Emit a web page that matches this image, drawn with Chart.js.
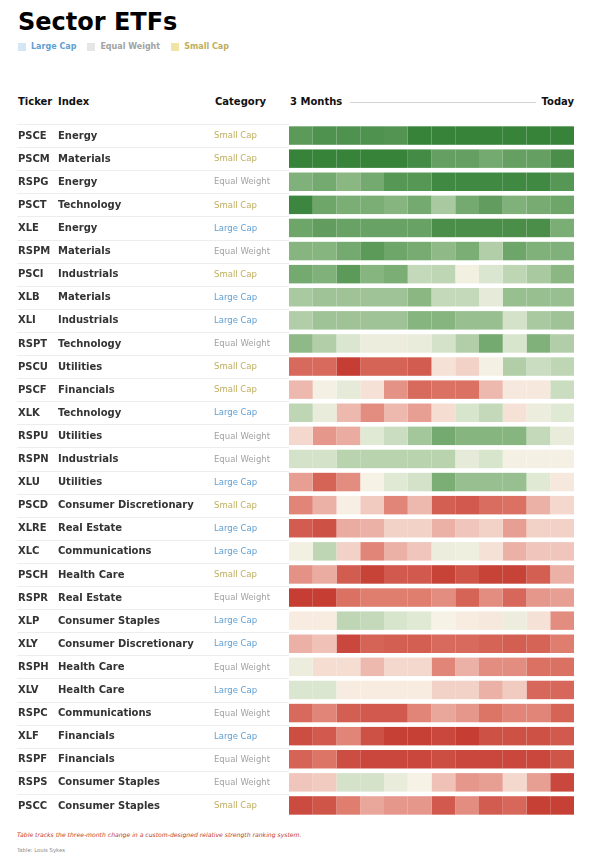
<!DOCTYPE html>
<html>
<head>
<meta charset="utf-8">
<title>Sector ETFs</title>
<script src="https://cdn.jsdelivr.net/npm/chart.js@4.4.1/dist/chart.umd.min.js"></script>
<style>
  body { margin: 0; background: #fff; font-family: "DejaVu Sans", sans-serif; }
  .page { position: relative; width: 591px; height: 860px; overflow: hidden; }
  h1 { position: absolute; left: 18px; top: 7px; margin: 0; font-size: 24px; line-height: 30px; font-weight: bold; color: #000; }
  .legend { position: absolute; left: 18px; top: 42px; display: flex; align-items: center; font-size: 8px; font-weight: bold; line-height: 10px; }
  .legend span.sw { width: 8px; height: 8px; margin-right: 5px; }
  .legend span.tx { margin-right: 11px; }
  .head { position: absolute; top: 96px; font-size: 10px; font-weight: bold; color: #111; line-height: 12px; }
  .rule { position: absolute; left: 350px; width: 186px; top: 102px; height: 1px; background: #d4d4d4; }
  .wrap { position: absolute; left: 0; top: 120px; width: 591px; height: 701px; }
  .note { position: absolute; left: 17px; top: 831px; font-size: 6.1px; font-style: italic; color: #c0392b; }
  .src { position: absolute; left: 17px; top: 847px; font-size: 5.3px; color: #888; }
</style>
</head>
<body>
<div class="page">
  <h1>Sector ETFs</h1>
  <div class="legend" id="legend"></div>
  <div class="head" style="left:18px">Ticker</div>
  <div class="head" style="left:58px">Index</div>
  <div class="head" style="left:215px">Category</div>
  <div class="head" id="from" style="left:290px"></div>
  <div class="rule"></div>
  <div class="head" id="to" style="right:17px"></div>
  <div class="wrap"><canvas id="heat"></canvas></div>
  <div class="note">Table tracks the three-month change in a custom-designed relative strength ranking system.</div>
  <div class="src">Table: Louis Sykes</div>
</div>
<script>
// rows of the table
const tickers = ['PSCE', 'PSCM', 'RSPG', 'PSCT', 'XLE', 'RSPM', 'PSCI', 'XLB', 'XLI', 'RSPT',
  'PSCU', 'PSCF', 'XLK', 'RSPU', 'RSPN', 'XLU', 'PSCD', 'XLRE', 'XLC', 'PSCH',
  'RSPR', 'XLP', 'XLY', 'RSPH', 'XLV', 'RSPC', 'XLF', 'RSPF', 'RSPS', 'PSCC'];
const indexes = ['Energy', 'Materials', 'Energy', 'Technology', 'Energy', 'Materials', 'Industrials', 'Materials', 'Industrials', 'Technology',
  'Utilities', 'Financials', 'Technology', 'Utilities', 'Industrials', 'Utilities', 'Consumer Discretionary', 'Real Estate', 'Communications', 'Health Care',
  'Real Estate', 'Consumer Staples', 'Consumer Discretionary', 'Health Care', 'Health Care', 'Communications', 'Financials', 'Financials', 'Consumer Staples', 'Consumer Staples'];
const categories = ['Small Cap', 'Small Cap', 'Equal Weight', 'Small Cap', 'Large Cap', 'Equal Weight', 'Small Cap', 'Large Cap', 'Large Cap', 'Equal Weight',
  'Small Cap', 'Small Cap', 'Large Cap', 'Equal Weight', 'Equal Weight', 'Large Cap', 'Small Cap', 'Large Cap', 'Large Cap', 'Small Cap',
  'Equal Weight', 'Large Cap', 'Large Cap', 'Equal Weight', 'Large Cap', 'Equal Weight', 'Large Cap', 'Equal Weight', 'Equal Weight', 'Small Cap'];

// 12 weekly readings, 3 months ago -> today
const weeks = ['W1', 'W2', 'W3', 'W4', 'W5', 'W6', 'W7', 'W8', 'W9', 'W10', 'W11', 'W12'];
const periodLabels = ['3 Months', 'Today'];

// relative strength score, -100 (weakest) .. 100 (strongest)
const strength = [
  [75, 82, 82, 82, 80, 95, 95, 95, 95, 95, 95, 95],
  [95, 95, 95, 95, 95, 88, 70, 70, 62, 70, 70, 85],
  [55, 62, 50, 62, 78, 78, 90, 90, 90, 90, 90, 78],
  [92, 65, 58, 58, 52, 62, 38, 62, 72, 55, 60, 65],
  [65, 72, 68, 68, 68, 68, 85, 85, 85, 85, 85, 58],
  [52, 52, 62, 75, 65, 60, 48, 58, 35, 65, 55, 55],
  [62, 55, 75, 52, 58, 28, 30, 5, 18, 30, 38, 50],
  [38, 42, 42, 42, 42, 50, 28, 28, 12, 45, 45, 45],
  [35, 42, 42, 42, 42, 52, 52, 45, 45, 22, 38, 42],
  [48, 35, 18, 8, 8, 10, 22, 35, 62, 20, 55, 35],
  [-60, -60, -92, -65, -65, -70, -8, -15, 3, 35, 25, 30],
  [-25, 3, 12, -8, -40, -60, -55, -55, -25, -5, -5, 25],
  [30, 10, -25, -42, -25, -35, -10, 20, 28, -8, 8, 15],
  [-12, -38, -30, 15, 25, 40, 62, 52, 52, 52, 28, 10],
  [22, 22, 32, 32, 32, 32, 32, 12, 20, 3, 3, 3],
  [-35, -65, -42, 2, 15, 22, 58, 45, 45, 45, 15, -5],
  [-45, -28, -2, -18, -45, -25, -68, -72, -58, -55, -28, -12],
  [-70, -78, -30, -28, -15, -15, -28, -20, -15, -35, -15, -15],
  [5, 30, -15, -45, -28, -20, 8, 6, -8, -28, -20, -20],
  [-40, -30, -70, -88, -72, -72, -88, -75, -88, -88, -68, -28],
  [-92, -92, -55, -48, -48, -48, -42, -65, -42, -62, -38, -35],
  [-3, -3, 30, 28, 20, 15, 2, -3, -5, 8, -8, -42],
  [-28, -22, -85, -65, -68, -68, -60, -60, -65, -68, -65, -48],
  [8, -10, -10, -25, -12, -12, -45, -28, -42, -42, -55, -55],
  [18, 18, -3, -3, -3, -3, -15, -15, -28, -18, -62, -62],
  [-60, -45, -68, -72, -72, -45, -32, -38, -52, -45, -45, -65],
  [-80, -72, -45, -78, -90, -90, -85, -92, -78, -78, -78, -72],
  [-65, -52, -80, -85, -85, -85, -80, -85, -85, -85, -85, -75],
  [-20, -18, 22, 22, 10, 2, -22, -38, -35, -12, -35, -85],
  [-82, -75, -48, -32, -38, -38, -72, -42, -70, -62, -90, -90]
];

const categoryText = { 'Large Cap': '#5f9fd2', 'Equal Weight': '#a2a2a2', 'Small Cap': '#bfae5c' };
const categorySwatch = { 'Large Cap': '#d5e6f4', 'Equal Weight': '#e6e6e6', 'Small Cap': '#efe3a6' };

// colour ramp
const stops = [
  [-100, [192, 50, 40]],
  [-50, [222, 120, 106]],
  [-20, [240, 198, 188]],
  [0, [249, 243, 232]],
  [20, [216, 229, 205]],
  [50, [138, 183, 130]],
  [100, [46, 125, 50]]
];
function scoreColor(v) {
  for (let i = 1; i < stops.length; i++) {
    if (v <= stops[i][0]) {
      const [a, ca] = stops[i - 1], [b, cb] = stops[i];
      const t = (v - a) / (b - a);
      const c = ca.map((x, j) => Math.round(x + (cb[j] - x) * t));
      return `rgb(${c[0]},${c[1]},${c[2]})`;
    }
  }
  return 'rgb(46,125,50)';
}

// legend + header
const legend = document.getElementById('legend');
['Large Cap', 'Equal Weight', 'Small Cap'].forEach(c => {
  legend.insertAdjacentHTML('beforeend',
    `<span class="sw" style="background:${categorySwatch[c]}"></span><span class="tx" style="color:${categoryText[c]}">${c}</span>`);
});
document.getElementById('from').textContent = periodLabels[0];
document.getElementById('to').textContent = periodLabels[1];

const rowText = {
  id: 'rowText',
  beforeDatasetsDraw(chart) {
    const ctx = chart.ctx, y = chart.scales.y;
    const step = y.getPixelForValue(1) - y.getPixelForValue(0);
    ctx.save();
    ctx.strokeStyle = '#ededed';
    ctx.lineWidth = 1;
    tickers.forEach((t, i) => {
      const top = Math.round(y.getPixelForValue(i) - step / 2) + 0.5;
      ctx.beginPath();
      ctx.moveTo(17, top);
      ctx.lineTo(chart.chartArea.left, top);
      ctx.stroke();
    });
    ctx.restore();
  },
  afterDatasetsDraw(chart) {
    const ctx = chart.ctx, y = chart.scales.y;
    ctx.save();
    ctx.textBaseline = 'middle';
    tickers.forEach((t, i) => {
      const py = y.getPixelForValue(i) + 0.5;
      ctx.font = 'bold 10px "DejaVu Sans"';
      ctx.fillStyle = '#333';
      ctx.fillText(t, 18, py);
      ctx.fillText(indexes[i], 58, py);
      ctx.font = '8.5px "DejaVu Sans"';
      ctx.fillStyle = categoryText[categories[i]];
      ctx.fillText(categories[i], 214, py);
    });
    ctx.restore();
  }
};

new Chart(document.getElementById('heat'), {
  type: 'bar',
  data: {
    labels: tickers,
    datasets: weeks.map((w, k) => ({
      label: w,
      data: tickers.map(() => 1),
      backgroundColor: strength.map(row => scoreColor(row[k])),
      borderWidth: 0,
      barPercentage: 0.8,
      categoryPercentage: 1
    }))
  },
  options: {
    indexAxis: 'y',
    responsive: true,
    maintainAspectRatio: false,
    animation: false,
    layout: { padding: { left: 289, right: 17, top: 4, bottom: 4 } },
    scales: {
      x: { stacked: true, min: 0, max: weeks.length, display: false },
      y: { stacked: true, display: false }
    },
    plugins: {
      legend: { display: false },
      tooltip: { enabled: false }
    }
  },
  plugins: [rowText]
});
</script>
</body>
</html>
